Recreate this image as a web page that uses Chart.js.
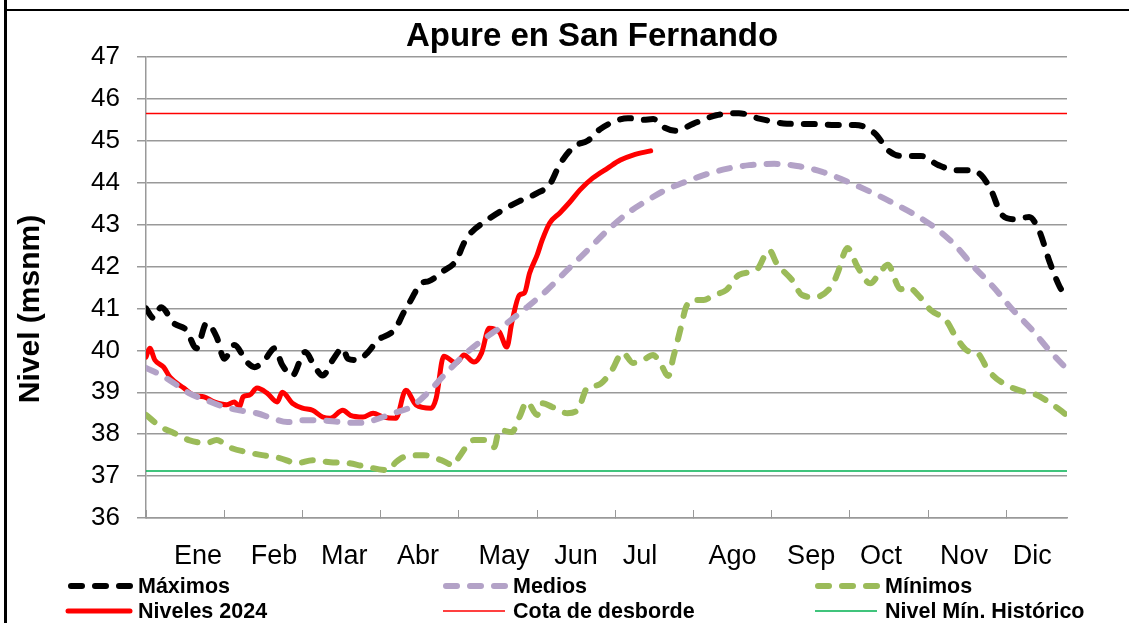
<!DOCTYPE html>
<html>
<head>
<meta charset="utf-8">
<script src="https://cdn.jsdelivr.net/npm/chart.js@4.4.1/dist/chart.umd.min.js"></script>
<style>
  html, body { margin: 0; padding: 0; background: #fff; }
  #wrap { width: 1129px; height: 623px; position: relative; }
</style>
</head>
<body>
<div id="wrap"><canvas id="apureChart"></canvas></div>
<script>
// dias del año (0 = 1 de enero) y niveles en msnm
const maxDays = [0, 3, 6, 11, 16, 20, 24, 28, 31, 35, 40, 43, 47, 51, 54, 58, 63, 67, 70, 74,
  78, 80, 84, 88, 92, 97, 99, 102, 105, 109, 112, 118, 123, 126, 129, 134, 140, 148, 155, 160,
  164, 170, 175, 180, 186, 191, 197, 201, 205, 210, 217, 226, 235, 243, 254, 264, 273, 281, 289, 294,
  299, 307, 314, 321, 327, 331, 335, 339, 344, 350, 354, 358, 362, 365];
const maxValues = [41.0, 40.77, 41.03, 40.65, 40.48, 40.05, 40.65, 40.32, 39.8, 40.13, 39.72, 39.6, 39.77, 40.05, 39.65, 39.4, 39.96, 39.6, 39.4, 39.77,
  40.05, 39.8, 39.77, 39.96, 40.25, 40.41, 40.53, 40.89, 41.2, 41.6, 41.65, 41.9, 42.15, 42.56, 42.82, 43.06, 43.3, 43.56, 43.75, 43.96,
  44.44, 44.88, 45.0, 45.28, 45.47, 45.54, 45.5, 45.52, 45.33, 45.24, 45.41, 45.61, 45.66, 45.53, 45.41, 45.4, 45.38, 45.38, 45.17, 44.78,
  44.64, 44.64, 44.42, 44.3, 44.3, 44.18, 43.81, 43.25, 43.13, 43.18, 42.85, 42.13, 41.53, 41.25];

const medDays = [0, 6, 11, 17, 24, 31, 37, 44, 50, 56, 62, 69, 77, 84, 90, 98, 105, 111, 119, 127,
  135, 143, 151, 159, 167, 175, 183, 191, 199, 206, 212, 221, 230, 239, 249, 258, 268, 279, 295, 311,
  320, 328, 336, 343, 351, 358, 365];
const medValues = [39.58, 39.41, 39.22, 38.98, 38.81, 38.65, 38.57, 38.5, 38.38, 38.29, 38.33, 38.33, 38.29, 38.27, 38.33, 38.5, 38.65, 38.95, 39.46, 39.94,
  40.32, 40.65, 41.03, 41.44, 41.92, 42.39, 42.87, 43.28, 43.59, 43.83, 43.98, 44.18, 44.33, 44.42, 44.45, 44.4, 44.26, 44.0, 43.55, 43.0,
  42.55, 42.0, 41.5, 41.0, 40.5, 40.0, 39.55];

const minDays = [0, 6, 11, 17, 24, 28, 33, 40, 46, 53, 60, 66, 73, 80, 86, 96, 99, 102, 110, 117,
  122, 124, 130, 135, 138, 140, 145, 148, 151, 155, 157, 161, 167, 171, 175, 179, 184, 189, 193, 197,
  201, 204, 207, 209, 212, 214, 217, 221, 225, 230, 235, 242, 247, 250, 256, 260, 265, 272, 274, 278,
  282, 287, 291, 294, 299, 302, 306, 311, 317, 321, 326, 329, 334, 339, 347, 352, 359, 365];
const minValues = [38.46, 38.17, 38.03, 37.86, 37.79, 37.86, 37.69, 37.57, 37.5, 37.43, 37.31, 37.38, 37.33, 37.31, 37.24, 37.14, 37.33, 37.45, 37.5, 37.38,
  37.26, 37.45, 37.86, 37.86, 37.69, 38.1, 38.05, 38.41, 38.77, 38.46, 38.74, 38.65, 38.5, 38.57, 39.12, 39.17, 39.46, 39.94, 39.7, 39.77,
  39.89, 39.67, 39.39, 39.84, 40.55, 41.03, 41.2, 41.2, 41.32, 41.44, 41.8, 41.92, 42.39, 42.07, 41.68, 41.32, 41.27, 41.56, 41.83, 42.44,
  41.99, 41.6, 41.87, 42.04, 41.46, 41.51, 41.32, 40.96, 40.72, 40.32, 39.98, 39.96, 39.51, 39.24, 39.03, 38.96, 38.72, 38.45];

const days2024 = [0, 1.5, 3.5, 7, 9.5, 15, 19, 23, 27, 32, 35, 37, 38.5, 41, 44, 48, 52, 54, 58, 62,
  66, 70, 73, 78, 81, 86, 90, 94, 99, 103, 107, 113, 115, 118, 123, 126, 130, 133, 136, 140,
  143, 145, 148, 150, 152, 155, 157, 160, 164, 168, 172, 177, 183, 188, 193, 200];
const values2024 = [39.84, 40.05, 39.77, 39.6, 39.36, 39.1, 38.93, 38.89, 38.77, 38.7, 38.77, 38.65, 38.89, 38.93, 39.1, 38.98, 38.77, 39.0, 38.74, 38.62,
  38.57, 38.41, 38.38, 38.57, 38.45, 38.41, 38.5, 38.41, 38.38, 39.05, 38.7, 38.62, 38.86, 39.86, 39.7, 39.89, 39.72, 39.94, 40.53, 40.44,
  40.08, 40.67, 41.32, 41.37, 41.84, 42.27, 42.63, 43.04, 43.28, 43.54, 43.83, 44.11, 44.35, 44.54, 44.66, 44.76];

const cotaDesborde = 45.65;
const nivelMinHistorico = 37.12;

const monthLabels = ['Ene', 'Feb', 'Mar', 'Abr', 'May', 'Jun', 'Jul', 'Ago', 'Sep', 'Oct', 'Nov', 'Dic'];
const monthLabelDays = [20.6, 50.7, 78.6, 107.8, 141.9, 170.4, 195.8, 232.4, 263.6, 291.3, 324.2, 351.2];
const tickDays = [0, 31, 62, 93, 124, 155, 186, 217, 248, 279, 310, 341];
const yMin = 36, yMax = 47;

function toPoints(days, values) {
  return days.map((d, i) => ({ x: d, y: values[i] }));
}

const fontFamily = '"Liberation Sans", Arial, sans-serif';

// marco, titulos y leyenda
const decorPlugin = {
  id: 'decor',
  beforeDraw(chart) {
    const ctx = chart.ctx;
    ctx.save();
    ctx.fillStyle = '#fff';
    ctx.fillRect(0, 0, chart.width, chart.height);
    ctx.fillStyle = '#000';
    ctx.fillRect(4, 0, 3, chart.height);
    ctx.fillRect(4, 9, chart.width - 4, 2);
    ctx.restore();
  },
  afterDraw(chart) {
    const ctx = chart.ctx;
    ctx.save();
    ctx.fillStyle = '#000';
    ctx.font = 'bold 33px ' + fontFamily;
    ctx.textAlign = 'center';
    ctx.textBaseline = 'middle';
    ctx.fillText('Apure en San Fernando', 592, 37);

    ctx.save();
    ctx.translate(31, 309);
    ctx.rotate(-Math.PI / 2);
    ctx.font = 'bold 30px ' + fontFamily;
    ctx.fillText('Nivel (msnm)', 0, 0);
    ctx.restore();

    const slots = [[68, 586], [443, 586], [815, 586], [68, 611], [443, 611], [815, 611]];
    ctx.font = 'bold 21.5px ' + fontFamily;
    ctx.textAlign = 'left';
    chart.data.datasets.forEach((ds, i) => {
      const [x, y] = slots[i];
      ctx.save();
      ctx.strokeStyle = ds.borderColor;
      ctx.lineWidth = ds.borderWidth;
      ctx.lineCap = ds.borderCapStyle || 'butt';
      ctx.setLineDash(ds.borderDash || []);
      ctx.beginPath();
      const inset = ds.borderDash ? 3 : 0;
      ctx.moveTo(x + inset, y);
      ctx.lineTo(x + 62, y);
      ctx.stroke();
      ctx.restore();
      ctx.fillText(ds.label, x + 70, y + 1);
    });
    ctx.restore();
  }
};

const ctx = document.getElementById('apureChart').getContext('2d');
const apureChart = new Chart(ctx, {
  type: 'line',
  data: {
    datasets: [
      {
        label: 'Máximos',
        data: toPoints(maxDays, maxValues),
        borderColor: '#000000',
        borderWidth: 6,
        borderDash: [11, 13],
        borderCapStyle: 'round'
      },
      {
        label: 'Medios',
        data: toPoints(medDays, medValues),
        borderColor: '#b3a2c7',
        borderWidth: 6,
        borderDash: [11, 13],
        borderCapStyle: 'round'
      },
      {
        label: 'Mínimos',
        data: toPoints(minDays, minValues),
        borderColor: '#9bbb59',
        borderWidth: 6,
        borderDash: [11, 13],
        borderCapStyle: 'round'
      },
      {
        label: 'Niveles 2024',
        data: toPoints(days2024, values2024),
        borderColor: '#ff0000',
        borderWidth: 5,
        borderCapStyle: 'round'
      },
      {
        label: 'Cota de desborde',
        data: [{ x: 0, y: cotaDesborde }, { x: 365, y: cotaDesborde }],
        borderColor: '#ff0000',
        borderWidth: 1.5,
        tension: 0
      },
      {
        label: 'Nivel Mín. Histórico',
        data: [{ x: 0, y: nivelMinHistorico }, { x: 365, y: nivelMinHistorico }],
        borderColor: '#00b050',
        borderWidth: 1.5,
        tension: 0
      }
    ]
  },
  options: {
    responsive: true,
    maintainAspectRatio: false,
    animation: false,
    events: [],
    layout: { padding: { top: 57, right: 62, left: 0, bottom: 0 } },
    elements: {
      point: { radius: 0 },
      line: { tension: 0.35, cubicInterpolationMode: 'monotone', borderJoinStyle: 'round' }
    },
    plugins: {
      legend: { display: false },
      title: { display: false },
      tooltip: { enabled: false }
    },
    scales: {
      x: {
        type: 'linear',
        min: 0,
        max: 365,
        position: 'bottom',
        afterBuildTicks(scale) { scale.ticks = tickDays.map(v => ({ value: v })); },
        afterFit(scale) { scale.height = 0; },
        ticks: { display: false },
        grid: { drawOnChartArea: false, drawTicks: true, tickLength: -8, color: '#999999', lineWidth: 1 },
        border: { display: true, color: '#999999', width: 1.5 }
      },
      xl: {
        type: 'linear',
        min: 0,
        max: 365,
        position: 'bottom',
        afterBuildTicks(scale) { scale.ticks = monthLabelDays.map(v => ({ value: v })); },
        afterFit(scale) { scale.height = 105; },
        ticks: {
          autoSkip: false,
          maxRotation: 0,
          padding: 22,
          color: '#000',
          font: { family: fontFamily, size: 27 },
          callback: (v, i) => monthLabels[i]
        },
        grid: { display: false, drawTicks: false },
        border: { display: false }
      },
      y: {
        min: yMin,
        max: yMax,
        afterFit(scale) { scale.width = 146; },
        ticks: {
          stepSize: 1,
          padding: 17,
          color: '#000',
          font: { family: fontFamily, size: 26 }
        },
        grid: { color: '#999999', lineWidth: 1.5, tickLength: 9 },
        border: { display: true, color: '#999999', width: 1.5 }
      }
    }
  },
  plugins: [decorPlugin]
});
</script>
</body>
</html>
